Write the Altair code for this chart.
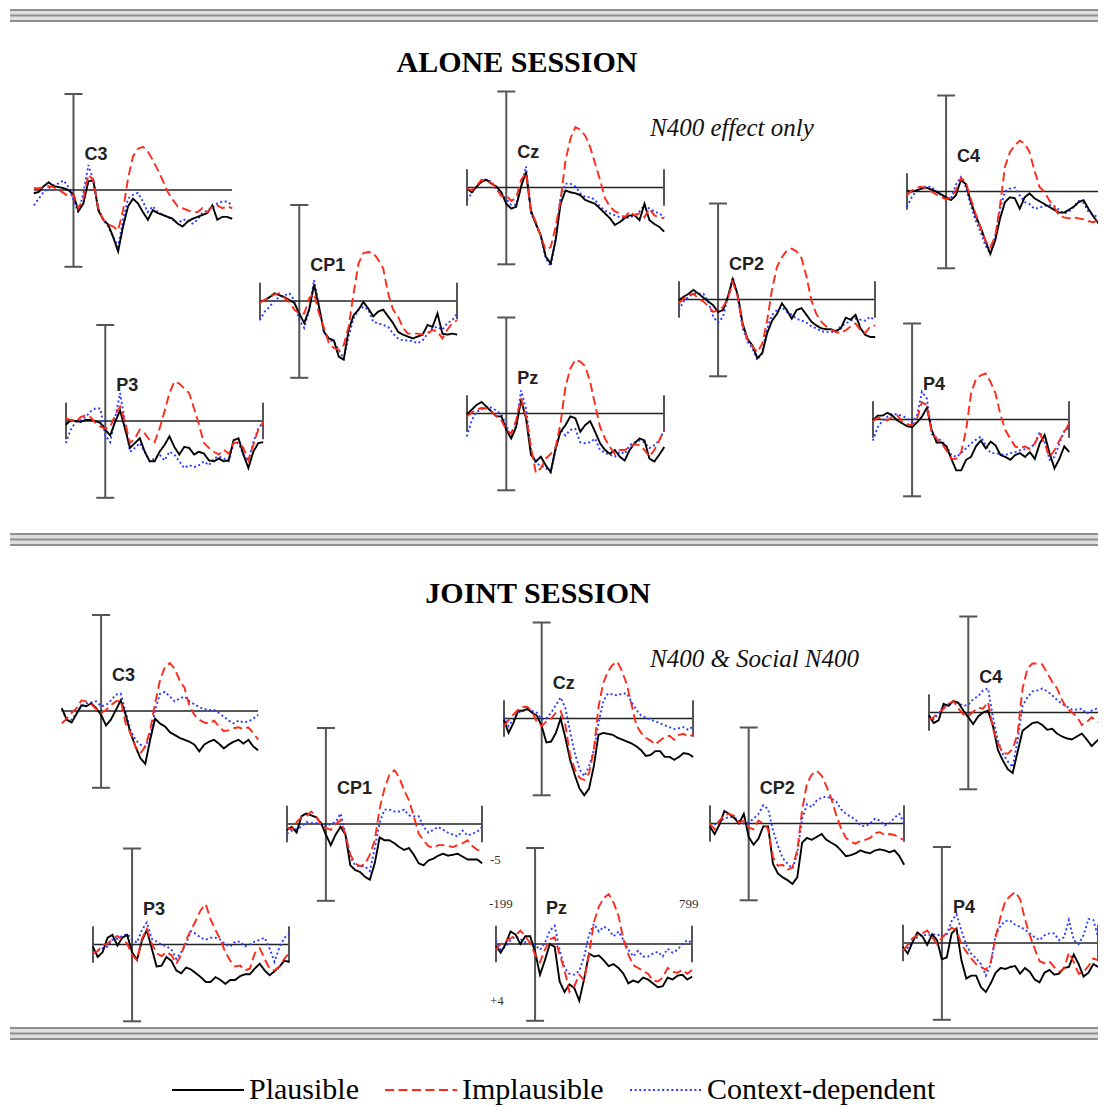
import altair as alt
import pandas as pd

# ---------------- data (µV, positive plotted downward) ----------------
TIMES = [-200, -175, -150, -125, -100, -75, -50, -25, 0, 25, 50, 75, 100, 125, 150,
         175, 200, 225, 250, 275, 300, 325, 350, 375, 400, 425, 450, 475, 500, 525,
         550, 575, 600, 625, 650, 675, 700, 725, 750, 775, 800]

CONDITIONS = ["Plausible", "Implausible", "Context-dependent"]

# ALONE session
A_C3_PL = [0.17,0.1,-0.2,-0.4,-0.2,-0.15,-0.1,0,0.25,1.1,0.7,-0.45,-0.5,1.05,1.55,1.8,2.45,3.2,1.9,0.85,0.45,0.7,1.15,1.55,1.05,1.2,1.3,1.4,1.5,1.75,1.9,1.65,1.5,1.4,1.3,1.2,0.8,1.55,1.4,1.4,1.5]
A_C3_IM = [-0.1,-0.1,-0.15,-0.2,-0.15,0,0.15,0.35,0.25,0.95,0.45,-0.8,-0.5,0.95,1.55,1.8,1.9,2.1,1.05,-0.6,-1.75,-2.15,-2.25,-2.0,-1.55,-1.05,-0.5,0.1,0.5,0.85,0.95,1.05,1.15,1.15,0.95,1.15,0.85,0.8,0.95,0.85,0.95]
A_C3_CD = [0.8,0.45,0.1,-0.1,-0.25,-0.35,-0.5,-0.15,0.5,1.2,0.15,-1.3,-0.5,0.95,1.55,1.9,2.45,2.95,1.55,0.45,0.25,0.15,0.6,1.15,0.85,1.15,1.3,1.4,1.55,1.75,1.55,1.55,1.75,1.55,1.2,1.05,0.95,0.7,0.6,0.6,0.8]

A_CP1_PL = [0.05,-0.05,-0.2,-0.4,-0.3,-0.2,-0.05,0.1,0.65,1.15,0.45,-0.85,0.3,1.6,1.95,2.05,2.9,3.05,1.5,0.75,0.45,0.05,0.4,0.8,0.55,0.45,0.8,1.15,1.6,1.75,1.85,1.95,1.85,1.75,1.25,1.35,0.65,1.7,1.75,1.7,1.75]
A_CP1_IM = [0.1,-0.05,-0.2,-0.35,-0.4,-0.15,0.05,0.45,0.65,0.65,-0.15,-0.4,0.65,1.4,2.2,2.45,2.55,2.3,1.35,-0.4,-1.95,-2.5,-2.55,-2.5,-2.15,-1.7,-0.4,0.45,0.8,1.4,1.7,1.7,1.7,1.75,1.7,1.5,1.6,1.95,1.5,1.15,1.0]
A_CP1_CD = [1.0,0.55,0.3,-0.05,-0.2,-0.3,-0.4,-0.05,1.0,1.4,0.45,-1.1,0.3,1.6,2.05,2.1,2.55,3.0,1.85,0.9,0.45,0.3,0.45,1.1,1.15,1.25,1.35,1.7,1.95,2.05,2.05,2.1,2.2,2.05,1.7,1.4,1.35,1.5,1.15,1.0,0.65]

A_P3_PL = [0.2,-0.05,0,0.05,-0.05,-0.05,0,0.1,0.45,0.75,0.05,-0.55,0.4,1.4,1.15,0.9,1.6,2.1,2.1,1.6,1.25,0.8,1.35,1.75,1.35,1.4,1.75,1.6,1.7,2.05,2.1,1.95,2.1,2.05,1.0,0.9,1.75,2.45,1.6,1.15,1.1]
A_P3_IM = [-0.15,-0.05,0.05,-0.2,-0.3,-0.2,0.1,0.3,0.4,0.3,-0.3,-0.75,0.05,1.15,0.9,0.45,0.65,1.0,1.1,0.4,-0.5,-1.45,-2.05,-1.95,-1.7,-1.45,-0.65,0.2,1.15,1.4,1.6,1.75,1.5,1.7,1.15,1.1,1.4,2.05,1.25,0.45,0.05]
A_P3_CD = [1.15,0.45,0.05,-0.05,-0.2,-0.5,-0.65,-0.65,0.75,1.1,-0.15,-1.45,0.05,1.6,1.4,1.15,1.6,2.1,1.95,1.75,2.05,1.6,1.75,2.1,2.45,2.3,2.4,2.3,2.1,2.3,1.95,1.85,1.95,2.1,1.15,1.15,1.75,2.1,1.1,0.4,0.05]

A_CZ_PL = [0.05,0.25,-0.05,-0.3,-0.4,-0.2,-0.05,0.25,0.85,1.1,1.0,-0.05,-0.8,1.2,1.9,2.5,3.6,3.95,2.75,0.85,0.15,0.25,0.3,0.4,0.65,0.75,0.85,1.1,1.35,1.6,1.95,1.8,1.6,1.45,1.45,1.7,0.85,1.7,1.9,2.05,2.3]
A_CZ_IM = [0.05,0.15,-0.1,-0.4,-0.35,-0.25,0.05,0.45,0.4,0.7,0.55,-0.4,-0.75,1.2,1.8,2.55,3.25,3.1,2.05,0.65,-1.4,-2.55,-3.15,-3.0,-2.7,-2.1,-1.25,-0.4,0.55,1.0,1.25,1.35,1.55,1.25,1.45,1.35,1.55,1.1,1.45,1.55,1.6]
A_CZ_CD = [0.65,0.3,-0.05,-0.4,-0.4,-0.3,0.15,0.3,0.6,0.9,0.9,-0.05,-1.1,1.35,1.9,2.55,3.7,4.1,2.65,0.5,-0.2,-0.2,-0.05,0.3,0.5,0.5,0.65,1.0,1.2,1.35,1.45,1.55,1.6,1.55,1.45,1.25,0.9,1.1,1.25,1.35,1.55]

A_CP2_PL = [0.05,-0.15,-0.3,-0.5,-0.3,-0.1,0.1,0.3,0.65,0.55,-0.15,-1.05,-0.25,1.25,2.05,2.4,3.05,2.8,1.75,1.1,0.75,0.2,0.55,1.0,0.55,0.45,0.8,1.15,1.35,1.5,1.55,1.55,1.65,1.5,0.95,1.05,0.8,1.5,1.85,1.95,1.95]
A_CP2_IM = [0.2,-0.05,-0.25,-0.3,-0.05,0.1,0.35,0.65,0.55,0.4,-0.05,-0.9,-0.15,1.35,2.1,2.45,2.75,2.3,1.1,-0.55,-1.7,-2.2,-2.55,-2.65,-2.5,-2.15,-1.2,0.05,0.75,1.15,1.4,1.55,1.7,1.75,1.6,1.4,1.25,1.6,1.75,1.4,1.35]
A_CP2_CD = [0.55,0.1,-0.15,-0.3,-0.3,-0.3,0.1,0.9,1.2,0.9,-0.15,-1.15,-0.15,1.5,2.2,2.55,3.15,2.75,1.5,0.8,0.55,0.4,0.65,0.8,1.0,1.1,1.2,1.4,1.5,1.65,1.7,1.7,1.65,1.4,1.25,1.1,1.0,1.05,1.1,0.9,1.1]

A_PZ_PL = [0.05,-0.2,-0.45,-0.6,-0.35,-0.1,0.15,0.15,0.85,1.3,0.7,-0.7,0.25,2.15,2.5,2.25,2.7,3.05,1.8,0.95,0.6,0.15,0.25,0.95,0.6,0.4,0.95,1.55,1.9,2.1,1.9,2.25,2.45,1.9,1.55,1.3,1.4,2.35,2.5,2.15,1.75]
A_PZ_IM = [0.15,-0.05,-0.2,-0.3,-0.25,-0.1,0.15,0.35,0.85,1.05,0.35,-0.8,0.15,1.75,3.1,2.85,2.35,2.1,1.75,0.5,-1.4,-2.35,-2.8,-2.7,-2.45,-1.65,-0.45,0.7,1.3,1.75,2.1,1.9,1.9,1.75,1.6,1.65,1.9,2.25,1.9,1.4,0.85]
A_PZ_CD = [1.2,0.35,-0.1,-0.2,-0.35,-0.3,-0.15,0.05,0.6,1.3,0.6,-1.2,-0.25,1.9,2.6,2.7,2.85,3.05,1.9,0.85,1.15,0.85,0.8,1.5,1.55,1.5,1.3,1.9,2.05,2.15,2.25,2.0,2.1,1.65,1.5,1.4,1.5,1.8,1.65,1.4,0.85]

A_C4_PL = [-0.05,0,-0.05,-0.15,-0.2,-0.1,0,0.15,0.3,0.45,0.2,-0.6,-0.4,0.5,1.25,1.85,2.55,3.25,2.55,1.4,0.55,0.3,0.35,0.9,0.3,0.1,0.35,0.5,0.65,0.8,0.95,1.1,1.1,0.95,0.8,0.55,0.45,0.9,1.3,1.65,2.0]
A_C4_IM = [0.2,-0.05,-0.2,-0.25,-0.15,0,0.15,0.3,0.4,0.3,-0.05,-0.7,-0.5,0.35,1.15,1.85,2.55,2.9,2.35,0.7,-1.3,-2.05,-2.4,-2.65,-2.5,-2.05,-1.1,-0.25,0,0.45,0.8,1.25,1.35,1.4,1.35,1.4,1.45,1.55,1.6,1.5,1.5]
A_C4_CD = [0.8,0.3,-0.05,-0.25,-0.25,-0.25,0,0.2,0.4,0.35,-0.35,-0.75,-0.25,0.7,1.5,2.1,2.8,3.25,2.35,0.9,0,-0.15,-0.2,0.2,0.55,0.65,0.9,0.85,0.75,0.7,0.75,0.95,1.15,1.05,0.8,0.5,0.6,1.05,1.25,1.3,1.3]

A_P4_PL = [0.05,-0.2,-0.2,-0.35,-0.2,0.05,0.2,0.35,0.4,0.15,-0.15,-0.6,0.55,1.2,1.2,1.4,2.05,2.65,2.65,2.1,1.95,1.4,1.1,1.5,1.15,1.35,1.85,1.95,2.1,1.85,1.75,1.95,1.7,2.05,1.25,0.8,1.75,2.55,2.05,1.4,1.7]
A_P4_IM = [0.1,-0.1,-0.05,0.05,-0.15,-0.2,0.1,0.25,0.3,-0.05,-0.9,-0.75,0.65,1.0,1.25,1.6,2.05,2.05,1.7,0.55,-1.35,-2.1,-2.3,-2.4,-1.95,-1.35,-0.25,0.55,1.0,1.4,1.5,1.4,1.55,1.25,0.75,1.25,1.95,1.6,1.1,0.65,0.2]
A_P4_CD = [1.1,0.4,0.05,-0.15,-0.3,-0.25,-0.2,-0.05,0.15,-0.2,-1.45,-1.1,0.75,0.95,1.1,1.4,1.85,1.95,1.75,1.5,1.25,1.05,0.9,1.35,1.75,1.75,1.8,1.85,1.75,1.7,1.6,1.55,1.5,1.25,0.65,1.15,2.1,1.95,1.25,0.6,0.4]

# JOINT session
J_C3_PL = [-0.15,0.45,0.6,0.15,-0.3,-0.25,-0.4,-0.15,0.2,0.75,0.45,-0.05,-0.55,0.2,1.15,1.85,2.45,2.75,1.5,0.4,0.65,0.8,1.1,1.25,1.4,1.5,1.6,1.75,2.1,1.75,1.6,1.5,1.7,1.95,1.75,1.6,1.5,1.7,1.5,1.85,2.05]
J_C3_IM = [0.65,0.4,0.1,-0.15,-0.55,-0.5,-0.35,-0.1,0.1,-0.05,-0.3,-0.5,-0.55,0.65,1.15,1.85,2.2,1.85,1.0,-0.4,-1.6,-2.3,-2.5,-2.2,-1.6,-1.2,-0.25,0.2,0.45,0.6,0.65,0.5,0.8,1.05,1.0,0.9,0.85,0.95,0.85,1.15,1.5]
J_C3_CD = [-0.05,0.4,0.45,0.1,-0.25,-0.4,-0.45,-0.5,-0.25,-0.3,-0.55,-0.85,-0.9,0.05,1.0,1.5,1.75,1.85,1.35,-0.05,-0.9,-1.0,-0.75,-0.5,-0.65,-0.75,-0.5,-0.35,-0.2,-0.1,-0.05,-0.05,0.1,0.3,0.5,0.65,0.5,0.6,0.55,0.4,0.2]

J_CP1_PL = [0.3,0.15,0.45,-0.4,-0.55,-0.45,-0.35,-0.05,0.55,1.1,0.55,0.15,0.55,2.15,2.4,2.5,2.75,2.9,2.05,0.7,0.85,0.85,1.0,1.2,1.35,1.25,1.6,2.05,2.15,1.9,1.8,1.65,1.55,1.65,1.6,1.55,1.7,1.85,1.85,1.85,2.05]
J_CP1_IM = [0.15,0.3,-0.1,-0.35,-0.4,-0.65,-0.4,0.05,0.2,0.3,0,-0.2,0.55,1.6,2.05,2.2,2.1,1.6,0.85,-0.8,-1.85,-2.55,-2.8,-2.45,-1.75,-1.25,-0.4,0.5,0.85,1.15,1.25,1.1,1.1,1.15,1.2,1.1,1.0,0.85,1.15,1.35,1.35]
J_CP1_CD = [0.5,0.35,0.25,0.15,-0.1,-0.05,-0.05,0,0.1,0,-0.1,-0.55,0.5,1.7,2.15,2.2,2.2,2.45,1.25,-0.05,-0.75,-0.75,-0.65,-0.65,-0.75,-0.45,-0.4,-0.4,0.15,0.45,0.3,0.15,0.3,0.45,0.55,0.65,0.35,0.6,0.5,0.4,0.15]

J_P3_PL = [0.1,0.65,0.4,-0.35,-0.5,0.05,-0.35,-0.5,0.4,0.8,-0.2,-0.75,0.2,1.15,1.1,0.65,0.85,1.35,1.5,1.2,1.3,1.5,1.7,1.95,1.95,1.7,1.85,2.05,1.85,1.85,1.65,1.55,1.55,1.25,1.0,1.35,1.6,1.4,1.15,0.85,0.9]
J_P3_IM = [0.45,0.35,0.05,-0.05,-0.25,-0.45,-0.25,-0.05,0.55,0.8,-0.3,-0.8,-0.05,0.45,0.6,0.4,0.55,1.0,0.55,-0.25,-0.75,-1.25,-1.8,-2.1,-1.3,-0.75,-0.25,0.4,0.85,1.15,1.1,1.35,1.25,0.45,0.2,0.75,1.25,1.35,1.15,0.75,0.45]
J_P3_CD = [0.3,0.3,0.2,0.1,-0.25,-0.3,-0.45,-0.55,-0.25,-0.1,-0.75,-1.15,-0.3,-0.15,0,0.1,0.25,0.75,0.4,-0.05,-0.7,-0.55,-0.35,-0.25,-0.35,-0.35,-0.25,0,0.1,-0.15,-0.15,0.1,0,-0.15,-0.25,-0.35,0.2,0.9,0.15,-0.35,-0.55]

J_CZ_PL = [0.05,0.75,0.25,-0.4,-0.4,-0.5,-0.3,-0.15,0.4,1.25,1.2,0.75,0,1.0,2.15,2.95,3.65,4.0,3.65,2.5,0.85,0.75,0.8,0.85,1.0,1.1,1.2,1.3,1.45,1.65,1.95,1.9,1.7,1.7,2.0,2.0,2.15,2.0,1.8,1.85,2.0]
J_CZ_IM = [0.4,0.1,-0.2,-0.45,-0.6,-0.6,-0.35,0.2,0.4,0.15,0,-0.3,-0.4,0.35,1.9,2.65,3.1,3.2,2.85,1.65,-0.6,-1.85,-2.45,-2.8,-2.95,-2.45,-1.75,-0.7,0.35,0.75,1.0,1.15,1.35,1.15,0.95,0.9,1.1,0.85,0.8,0.95,0.85]
J_CZ_CD = [-0.1,0.4,0.05,-0.3,-0.4,-0.45,-0.4,-0.3,0.05,0,-0.3,-0.7,-1.1,-0.55,0.7,1.8,2.65,3.0,2.5,1.65,0.25,-0.9,-1.3,-1.25,-1.2,-1.3,-1.3,-0.85,-0.45,-0.15,-0.05,0.05,0.15,0.25,0.35,0.45,0.55,0.5,0.45,0.6,0.4]

J_CP2_PL = [0.15,0.55,0.05,-0.65,-0.5,-0.3,0,-0.5,0.7,1.1,0.8,0.15,0.15,2.1,2.6,2.8,2.95,3.15,2.8,1.0,0.75,0.85,0.7,0.55,0.85,1.0,1.15,1.4,1.7,1.65,1.55,1.4,1.5,1.55,1.4,1.35,1.4,1.5,1.4,1.7,2.15]
J_CP2_IM = [0,0.3,-0.15,-0.45,-0.5,-0.4,-0.05,-0.15,0.2,0.3,-0.15,0,0.3,1.75,2.2,2.15,2.4,2.3,1.4,-0.7,-2.1,-2.55,-2.75,-2.5,-1.95,-1.3,-0.45,0.25,0.75,0.95,1.05,0.9,0.85,0.75,0.5,0.45,0.6,0.55,0.6,0.75,0.85]
J_CP2_CD = [0.15,0.05,-0.15,-0.25,-0.35,-0.3,-0.15,0,-0.05,-0.25,-0.5,-0.95,-0.75,0.35,1.15,1.8,2.1,2.35,1.55,-0.25,-1.0,-0.85,-1.2,-1.35,-1.4,-1.3,-1.15,-0.75,-0.5,-0.35,-0.2,0.1,0.15,0,-0.25,-0.15,0.1,0,-0.3,-0.5,0]

J_PZ_PL = [0.1,0.45,0,-0.65,-0.5,0,-0.4,-0.4,0.4,1.6,0.85,0,0.15,1.95,2.5,2.1,2.3,2.95,1.8,0.5,0.65,0.6,0.85,1.15,1.05,1.25,1.55,2.05,1.9,2.0,1.75,1.85,2.05,2.25,2.2,1.75,1.85,1.65,1.6,1.85,1.7]
J_PZ_IM = [0.3,0,-0.15,-0.3,-0.45,-0.7,-0.4,-0.05,0.55,0.95,0.3,-0.25,-0.35,0.55,1.35,2.5,2.2,1.6,1.9,0.5,-1.15,-1.95,-2.4,-2.6,-2.15,-1.45,-0.25,0.55,1.1,1.25,1.4,1.55,1.9,1.95,1.75,1.25,1.45,1.5,1.35,1.55,1.35]
J_PZ_CD = [-0.2,0.3,0.15,-0.2,-0.4,-0.25,-0.1,-0.05,0.05,0.3,-0.05,-0.7,-0.95,0.3,1.25,1.55,1.6,1.4,0.65,-0.5,-1.05,-0.65,-0.9,-0.75,-0.4,-0.65,-0.2,0.3,0.65,0.35,0.65,0.65,0.5,0.4,0.65,0.25,0.45,0.3,0,-0.2,-0.05]

J_C4_PL = [0.15,0.55,0.4,-0.45,-0.35,-0.6,-0.5,-0.1,0.25,0.6,0.2,0,-0.1,0.7,1.95,2.5,2.95,3.15,2.05,0.95,0.75,0.55,0.5,0.65,0.9,0.85,1.1,1.25,1.35,1.4,1.25,1.1,1.4,1.75,1.5,1.25,1.45,1.5,1.6,1.6,1.65]
J_C4_IM = [0.4,0.25,0,-0.2,-0.45,-0.6,-0.2,0.1,0.2,-0.05,-0.25,-0.2,-0.55,0.85,1.6,2.1,2.15,1.9,1.1,-1.25,-2.3,-2.55,-2.55,-2.5,-2.05,-1.6,-1.25,-0.65,-0.2,0,0.2,0.65,0.5,0.25,0.45,0.55,0.4,0.45,0.5,0.45,0.4]
J_C4_CD = [0.15,0.35,0.05,-0.35,-0.45,-0.6,-0.5,-0.35,-0.4,-0.7,-0.85,-1.15,-1.25,0.25,1.45,2.15,2.55,2.85,1.45,-0.35,-0.8,-1.1,-1.15,-1.25,-1.1,-0.9,-0.65,-0.45,-0.3,-0.15,-0.15,-0.2,0.05,-0.1,-0.2,-0.1,0.05,0.05,0,0,0.05]

J_P4_PL = [0.2,0.55,-0.05,-0.55,-0.35,0.1,-0.45,-0.15,0.85,0.75,-0.5,-0.75,0.9,1.85,1.7,1.7,2.3,2.55,2.1,1.55,1.3,1.35,1.25,1.2,1.6,1.3,1.5,1.9,2.05,1.55,1.4,1.65,1.6,1.3,1.25,0.6,1.1,1.75,1.55,1.1,1.25]
J_P4_IM = [0.4,0.1,-0.25,-0.4,-0.5,-0.65,-0.3,0.05,-0.25,-0.55,-0.8,-0.65,0.05,0.45,0.8,1.1,1.25,1.4,1.0,-0.3,-1.35,-2.2,-2.45,-2.65,-2.3,-1.25,-0.4,0.3,0.95,1.05,0.95,1.25,1.5,1.35,0.5,1.0,1.6,1.5,1.2,0.8,0.9]
J_P4_CD = [0.4,0.25,-0.1,-0.3,-0.45,-0.4,-0.45,-0.45,-0.35,-0.45,-1.15,-1.5,-0.65,0.1,0.55,0.8,1.1,1.7,1.1,-0.4,-0.9,-1.15,-1.15,-0.95,-0.85,-0.7,-0.5,-0.3,-0.15,-0.4,-0.5,-0.5,-0.15,-0.3,-1.2,-0.15,0.05,-0.4,-1.25,-1.2,-0.3]

TITLES = [("ALONE SESSION", 517, 63), ("JOINT SESSION", 538, 594)]
NOTES = [("N400 effect only", 650, 128), ("N400 & Social N400", 650, 659)]
SCALE_LABELS = [("-5", 490, 860), ("-199", 489, 904), ("799", 679, 904), ("+4", 490, 1001)]

# ---------------- layout & style ----------------
W, H = 1090, 1099
M = 8                 # page margin (page px -> chart px)
PX_PER_UV = 19.2
COLORS = ["#000000", "#ff2a1a", "#2b3bff"]
DASHES = [[1, 0], [9, 4.5], [2, 2.6]]
WIDTHS = [1.9, 1.9, 2.3]
SYMBOL_LEN = 72

# electrode, series, left px (-199 ms), right px (799 ms), baseline px, end caps
PANELS = [
    ("C3", (A_C3_PL, A_C3_IM, A_C3_CD), 34, 232, 190, False),
    ("CP1", (A_CP1_PL, A_CP1_IM, A_CP1_CD), 260, 457, 301, True),
    ("P3", (A_P3_PL, A_P3_IM, A_P3_CD), 66, 263, 421, True),
    ("Cz", (A_CZ_PL, A_CZ_IM, A_CZ_CD), 467, 664, 187.5, True),
    ("CP2", (A_CP2_PL, A_CP2_IM, A_CP2_CD), 679, 875, 299.5, True),
    ("Pz", (A_PZ_PL, A_PZ_IM, A_PZ_CD), 467, 664, 413.5, True),
    ("C4", (A_C4_PL, A_C4_IM, A_C4_CD), 907, 1103, 191.5, True),
    ("P4", (A_P4_PL, A_P4_IM, A_P4_CD), 873, 1069, 419.5, True),
    ("C3", (J_C3_PL, J_C3_IM, J_C3_CD), 62, 258, 711, False),
    ("CP1", (J_CP1_PL, J_CP1_IM, J_CP1_CD), 287, 482, 824, True),
    ("P3", (J_P3_PL, J_P3_IM, J_P3_CD), 93, 289, 944.5, True),
    ("Cz", (J_CZ_PL, J_CZ_IM, J_CZ_CD), 504, 693, 718.5, True),
    ("CP2", (J_CP2_PL, J_CP2_IM, J_CP2_CD), 710, 904, 823.5, True),
    ("Pz", (J_PZ_PL, J_PZ_IM, J_PZ_CD), 496, 692, 944, True),
    ("C4", (J_C4_PL, J_C4_IM, J_C4_CD), 929, 1126, 712.5, True),
    ("P4", (J_P4_PL, J_P4_IM, J_P4_CD), 903, 1098, 943, True),
]
SEPARATORS = [10, 534, 1028]
LEGEND_LEFT, LEGEND_CENTER_Y = 171, 1089

LEGEND = alt.Legend(
    title=None, orient="none", legendX=LEGEND_LEFT - M,
    legendY=LEGEND_CENTER_Y - M - SYMBOL_LEN / 2, direction="horizontal",
    columns=3, symbolType="stroke", symbolSize=SYMBOL_LEN ** 2, symbolStrokeWidth=2,
    labelFont="Liberation Serif", labelFontSize=30, labelColor="#000000",
    labelLimit=400, labelOffset=4, columnPadding=22,
)
COLOR_SCALE = alt.Scale(domain=CONDITIONS, range=COLORS)
DASH_SCALE = alt.Scale(domain=CONDITIONS, range=DASHES)
WIDTH_SCALE = alt.Scale(domain=CONDITIONS, range=WIDTHS)


def panel(label, series, left, right, base, caps):
    L, R, B = left - M, right - M, base - M
    k = (R - L) / 998.0                       # px per ms
    d0 = -199 - L / k
    xs = alt.Scale(domain=[d0, d0 + W / k], nice=False, zero=False)
    a = -B / PX_PER_UV
    ys = alt.Scale(domain=[a, a + H / PX_PER_UV], nice=False, zero=False, reverse=True)

    def X(f):
        return alt.X(f, type="quantitative", scale=xs, axis=None)

    def Y(f):
        return alt.Y(f, type="quantitative", scale=ys, axis=None)

    order = [2, 0, 1]  # blue first, then black, red on top
    rows = []
    for i in order:
        for t, v in zip(TIMES, series[i]):
            rows.append({"t": t, "v": v, "cond": CONDITIONS[i]})
    lines = alt.Chart(pd.DataFrame(rows)).mark_line().encode(
        x=X("t"), y=Y("v"),
        color=alt.Color("cond:N", scale=COLOR_SCALE, legend=LEGEND, sort=CONDITIONS),
        strokeDash=alt.StrokeDash("cond:N", scale=DASH_SCALE, legend=LEGEND, sort=CONDITIONS),
        strokeWidth=alt.StrokeWidth("cond:N", scale=WIDTH_SCALE, legend=None),
    )
    cap = 9 / k
    vaxis = alt.Chart(pd.DataFrame({"t": [0], "v": [-5.0], "v2": [4.0]})).mark_rule(
        color="#555555", strokeWidth=2).encode(x=X("t"), y=Y("v"), y2=alt.Y2("v2"))
    vcaps = alt.Chart(pd.DataFrame({"t": [-cap, -cap], "t2": [cap, cap], "v": [-5.0, 4.0]})).mark_rule(
        color="#555555", strokeWidth=2).encode(x=X("t"), x2=alt.X2("t2"), y=Y("v"))
    base_line = alt.Chart(pd.DataFrame({"t": [-199], "t2": [799], "v": [0.0]})).mark_rule(
        color="#222222", strokeWidth=1.6).encode(x=X("t"), x2=alt.X2("t2"), y=Y("v"))
    layers = [vaxis, vcaps, base_line]
    if caps:
        ecaps = alt.Chart(pd.DataFrame({"t": [-199, 799], "v": [-0.95, -0.95], "v2": [0.95, 0.95]})).mark_rule(
            color="#555555", strokeWidth=2).encode(x=X("t"), y=Y("v"), y2=alt.Y2("v2"))
        layers.append(ecaps)
    txt = alt.Chart(pd.DataFrame({"t": [11 / k], "v": [-1.82], "label": [label]})).mark_text(
        align="left", baseline="middle", font="Liberation Sans", fontWeight="bold",
        fontSize=18, color="#222222").encode(x=X("t"), y=Y("v"), text="label:N")
    layers += [lines, txt]
    return alt.layer(*layers)


# figure-level annotation layer (page pixel frame)
fx = alt.Scale(domain=[0, W], nice=False, zero=False)
fy = alt.Scale(domain=[0, H], nice=False, zero=False, reverse=True)


def FX(f):
    return alt.X(f, type="quantitative", scale=fx, axis=None)


def FY(f):
    return alt.Y(f, type="quantitative", scale=fy, axis=None)


band_rows, sep_rows = [], []
for y in SEPARATORS:
    band_rows.append({"x": 10 - M, "x2": W, "y": y - 1 - M, "y2": y + 12 - M})
    for off in (0, 5.5, 11):
        sep_rows.append({"x": 10 - M, "x2": W, "y": y + off - M})
bands = alt.Chart(pd.DataFrame(band_rows)).mark_rect(color="#dedede").encode(
    x=FX("x"), x2=alt.X2("x2"), y=FY("y"), y2=alt.Y2("y2"))
seps = alt.Chart(pd.DataFrame(sep_rows)).mark_rule(color="#8f8f8f", strokeWidth=2.2).encode(
    x=FX("x"), x2=alt.X2("x2"), y=FY("y"))

titles = alt.Chart(pd.DataFrame([{"text": s, "x": x - M, "y": y - M} for s, x, y in TITLES])).mark_text(
    align="center", baseline="middle", font="Liberation Serif", fontWeight="bold",
    fontSize=30, color="#000000").encode(x=FX("x"), y=FY("y"), text="text:N")
notes = alt.Chart(pd.DataFrame([{"text": s, "x": x - M, "y": y - M} for s, x, y in NOTES])).mark_text(
    align="left", baseline="middle", font="Liberation Serif", fontStyle="italic",
    fontSize=25, color="#111111").encode(x=FX("x"), y=FY("y"), text="text:N")
scale_lbls = alt.Chart(pd.DataFrame([{"text": s, "x": x - M, "y": y - M} for s, x, y in SCALE_LABELS])).mark_text(
    align="left", baseline="middle", font="Liberation Serif", fontSize=13,
    color="#333333").encode(x=FX("x"), y=FY("y"), text="text:N")

figure = alt.layer(bands, seps, titles, notes, scale_lbls)

panels = [panel(*p) for p in PANELS]

chart = alt.layer(*panels, figure).resolve_scale(
    x="independent", y="independent"
).properties(
    width=W, height=H, padding=0,
    autosize=alt.AutoSizeParams(type="none"),
    background="white",
).configure_view(stroke=None)

chart.save("out.html", embed_options={"renderer": "svg", "actions": False})
